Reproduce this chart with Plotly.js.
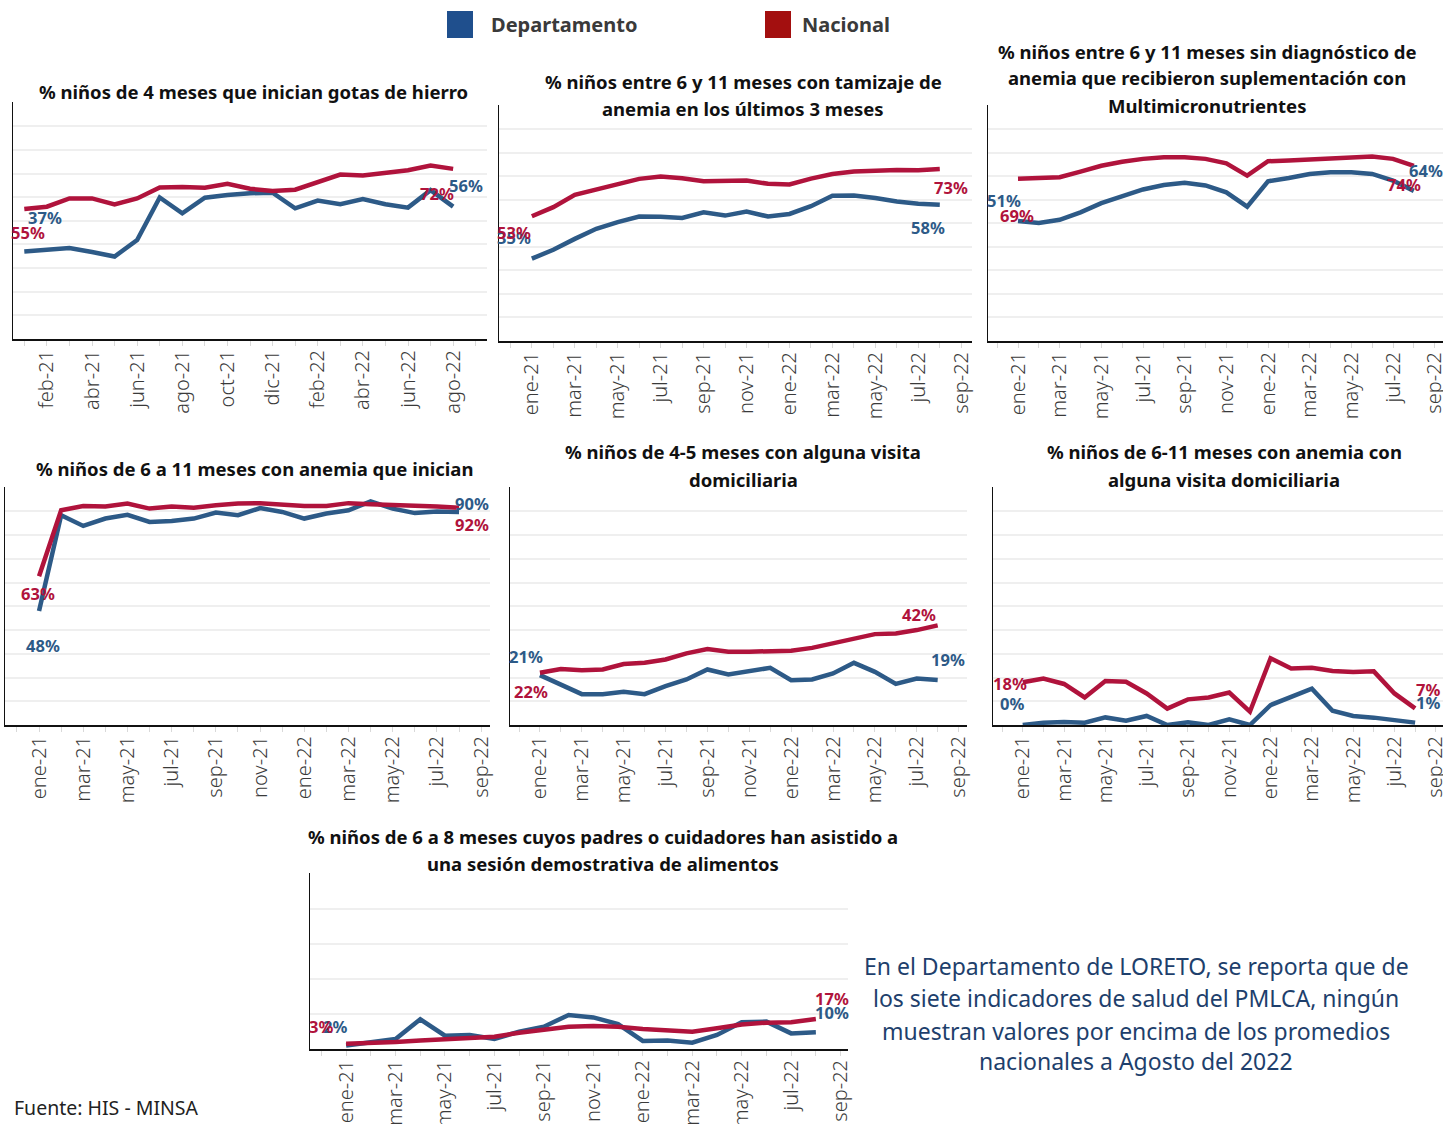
<!DOCTYPE html>
<html>
<head>
<meta charset="utf-8">
<script src="https://cdn.plot.ly/plotly-3.0.1.min.js"></script>
<style>
  html, body { margin: 0; padding: 0; background: #ffffff; }
  #chart { width: 1443px; height: 1124px; }
</style>
</head>
<body>
<div id="chart"></div>
<script>
// ---------- DATA ----------
const months = ['ene-21','feb-21','mar-21','abr-21','may-21','jun-21','jul-21','ago-21','sep-21','oct-21','nov-21','dic-21',
                'ene-22','feb-22','mar-22','abr-22','may-22','jun-22','jul-22','ago-22','sep-22'];
const seriesNames = ['Departamento', 'Nacional'];

// 1. % niños de 4 meses que inician gotas de hierro
const p1Dep = [0.37,0.377,0.385,0.368,0.349,0.419,0.599,0.532,0.598,0.609,0.617,0.619,0.553,0.586,0.570,0.592,0.570,0.556,0.630,0.56];
const p1Nac = [0.55,0.560,0.595,0.595,0.570,0.595,0.641,0.643,0.640,0.657,0.636,0.626,0.632,0.662,0.696,0.692,0.703,0.714,0.734,0.72];
// 2. tamizaje de anemia
const p2Dep = [0.35,0.388,0.434,0.477,0.505,0.529,0.528,0.523,0.547,0.533,0.550,0.529,0.540,0.573,0.617,0.618,0.608,0.593,0.583,0.579];
const p2Nac = [0.53,0.569,0.621,0.644,0.663,0.689,0.699,0.692,0.679,0.679,0.682,0.668,0.665,0.690,0.710,0.720,0.724,0.727,0.726,0.731];
// 3. suplementación con Multimicronutrientes
const p3Dep = [0.51,0.502,0.515,0.547,0.586,0.615,0.644,0.663,0.672,0.661,0.632,0.571,0.679,0.693,0.710,0.717,0.717,0.710,0.682,0.638];
const p3Nac = [0.69,0.692,0.696,0.720,0.745,0.762,0.774,0.781,0.781,0.774,0.755,0.703,0.764,0.767,0.771,0.777,0.781,0.784,0.774,0.744];
// 4. anemia que inician
const p4Dep = [0.48,0.884,0.839,0.870,0.886,0.856,0.860,0.870,0.895,0.884,0.914,0.898,0.870,0.891,0.905,0.942,0.912,0.893,0.900,0.898];
const p4Nac = [0.627,0.905,0.923,0.921,0.933,0.912,0.921,0.916,0.926,0.933,0.935,0.928,0.923,0.923,0.935,0.930,0.928,0.923,0.921,0.916];
// 5. 4-5 meses con alguna visita domiciliaria
const p5Dep = [0.21,0.171,0.130,0.130,0.140,0.130,0.164,0.192,0.234,0.213,0.227,0.241,0.189,0.192,0.217,0.262,0.224,0.173,0.196,0.19];
const p5Nac = [0.22,0.236,0.231,0.234,0.257,0.262,0.276,0.302,0.320,0.309,0.309,0.313,0.313,0.325,0.344,0.365,0.383,0.386,0.400,0.42];
// 6. 6-11 meses con anemia con alguna visita domiciliaria
const p6Dep = [0.0,0.010,0.013,0.010,0.032,0.018,0.038,0.0,0.011,0.0,0.024,0.0,0.084,0.116,0.153,0.060,0.038,0.031,0.021,0.01];
const p6Nac = [0.18,0.196,0.173,0.116,0.185,0.182,0.133,0.069,0.108,0.116,0.137,0.056,0.281,0.238,0.241,0.228,0.223,0.226,0.133,0.07];
// 7. sesión demostrativa de alimentos
const p7Dep = [0.02,0.036,0.057,0.169,0.076,0.080,0.057,0.099,0.127,0.194,0.180,0.142,0.046,0.049,0.036,0.080,0.152,0.156,0.089,0.096];
const p7Nac = [0.03,0.032,0.040,0.049,0.057,0.067,0.070,0.093,0.108,0.127,0.131,0.127,0.114,0.104,0.099,0.118,0.140,0.150,0.152,0.171];

const titles = [
  ['% niños de 4 meses que inician gotas de hierro'],
  ['% niños entre 6 y 11 meses con tamizaje de', 'anemia en los últimos 3 meses'],
  ['% niños entre 6 y 11 meses sin diagnóstico de', 'anemia que recibieron suplementación con', 'Multimicronutrientes'],
  ['% niños de 6 a 11 meses con anemia que inician'],
  ['% niños de 4-5 meses con alguna visita', 'domiciliaria'],
  ['% niños de 6-11 meses con anemia con', 'alguna visita domiciliaria'],
  ['% niños de 6 a 8 meses cuyos padres o cuidadores han asistido a', 'una sesión demostrativa de alimentos']
];
const noteLines = ['En el Departamento de LORETO, se reporta que de',
                   'los siete indicadores de salud del PMLCA, ningún',
                   'muestran valores por encima de los promedios',
                   'nacionales a Agosto del 2022'];
const sourceText = 'Fuente: HIS - MINSA';

// ---------- LAYOUT CONFIG ----------
const W = 1443, H = 1124;
const BLUE = '#2d5a87', RED = '#b0133c';
const LEG_BLUE = '#1f4f8d', LEG_RED = '#a30f0f';
const FONT = 'Noto Sans, sans-serif';
const px = p => p / W, py = p => 1 - p / H;

// box: [left, right, top, bottom] in pixels; lab: [xshift, yshift] for depFirst, nacFirst, depLast, nacLast
const panels = [
  {dep:p1Dep, nac:p1Nac, box:[13,487,102,339], xr:[-0.5,20.5], t0:1, dy:0.1, tc:253, ty:[92],
   lab:{df:[21,34], nf:[4,-23], dl:[13,21], nl:[-16,-25]}},
  {dep:p2Dep, nac:p2Nac, box:[499,972,105,341], xr:[-1.53,20.5], t0:0, dy:0.1, tc:743, ty:[81,108],
   lab:{df:[-18,21], nf:[-18,-16], dl:[-12,-23], nl:[11,-18]}},
  {dep:p3Dep, nac:p3Nac, box:[988,1443,105,341], xr:[-1.44,20.4], t0:0, dy:0.1, tc:1207, ty:[51,78,105],
   lab:{df:[-14,21], nf:[-1,-37], dl:[12,20], nl:[-10,-19]}},
  {dep:p4Dep, nac:p4Nac, box:[5,490,487,725], xr:[-1.54,20.4], t0:0, dy:0.1, tc:254, ty:[468],
   lab:{df:[4,-34], nf:[-1,-17], dl:[13,8], nl:[13,-17]}},
  {dep:p5Dep, nac:p5Nac, box:[510,967,487,725], xr:[-1.43,20.4], t0:0, dy:0.1, tc:743, ty:[452,479],
   lab:{df:[-14,19], nf:[-9,-19], dl:[10,20], nl:[-19,11]}},
  {dep:p6Dep, nac:p6Nac, box:[993,1443,487,725], xr:[-1.44,20.35], t0:0, dy:0.1, tc:1224, ty:[452,479],
   lab:{df:[-11,22], nf:[-13,-1], dl:[13,20], nl:[13,19]}},
  {dep:p7Dep, nac:p7Nac, box:[310,848,873,1049], xr:[-1.46,20.3], t0:0, dy:0.2, tc:603, ty:[836,863],
   lab:{df:[-11,19], nf:[-25,17], dl:[16,20], nl:[16,20]}}
];

const data = [];
const layout = {
  width: W, height: H,
  margin: {l:0, r:0, t:0, b:0},
  paper_bgcolor: '#ffffff', plot_bgcolor: '#ffffff',
  showlegend: false,
  font: {family: FONT, color: '#333'},
  annotations: [], shapes: []
};

panels.forEach((p, k) => {
  const n = k + 1;
  const xa = 'xaxis' + (n === 1 ? '' : n), ya = 'yaxis' + (n === 1 ? '' : n);
  const xr = 'x' + (n === 1 ? '' : n), yr = 'y' + (n === 1 ? '' : n);
  const xs = p.dep.map((_, i) => i);
  const tickvals = [], ticktext = [];
  for (let i = p.t0; i < months.length; i += 2) { tickvals.push(i); ticktext.push(months[i]); }

  layout[xa] = {
    domain: [px(p.box[0]), px(p.box[1])], anchor: yr,
    range: p.xr, tickmode: 'array', tickvals: tickvals, ticktext: ticktext,
    tickangle: -90, tickfont: {family: FONT, size: 20, color: '#3a3a3a', weight: 300},
    ticklabeloverflow: 'allow', ticklabelstandoff: -4,
    ticks: 'outside', ticklen: 5, tickcolor: '#d9d9d9', tickwidth: 1,
    minor: {ticks: 'outside', ticklen: 5, tickcolor: '#d9d9d9', tickwidth: 1, dtick: 1, tick0: 0, showgrid: false},
    showgrid: false, zeroline: false, showline: true, linecolor: '#111', linewidth: 2,
    fixedrange: true
  };
  layout[ya] = {
    domain: [py(p.box[3]), py(p.box[2])], anchor: xr,
    range: [0, 1.003], dtick: p.dy, tick0: 0, showticklabels: false, ticks: '',
    showgrid: true, gridcolor: '#efefef', gridwidth: 2,
    zeroline: false, showline: true, linecolor: '#111', linewidth: 1.5,
    fixedrange: true
  };

  data.push({x: xs, y: p.dep, xaxis: xr, yaxis: yr, type: 'scatter', mode: 'lines', name: seriesNames[0],
             line: {color: BLUE, width: 4.5}, hoverinfo: 'skip'});
  data.push({x: xs, y: p.nac, xaxis: xr, yaxis: yr, type: 'scatter', mode: 'lines', name: seriesNames[1],
             line: {color: RED, width: 4.5}, hoverinfo: 'skip'});

  const last = p.dep.length - 1;
  const labs = [
    [p.dep, 0, BLUE, p.lab.df], [p.nac, 0, RED, p.lab.nf],
    [p.dep, last, BLUE, p.lab.dl], [p.nac, last, RED, p.lab.nl]
  ];
  labs.forEach(([arr, i, col, sh]) => {
    layout.annotations.push({
      x: i, y: arr[i], xref: xr, yref: yr, showarrow: false,
      text: Math.round(arr[i] * 100) + '%', xshift: sh[0], yshift: sh[1],
      font: {family: FONT, size: 16.5, color: col, weight: 'bold'},
      xanchor: 'center', yanchor: 'middle'
    });
  });

  titles[k].forEach((line, j) => {
    layout.annotations.push({
      x: px(p.tc), y: py(p.ty[j]), xref: 'paper', yref: 'paper', showarrow: false,
      text: line, xanchor: 'center', yanchor: 'middle',
      font: {family: FONT, size: 18.5, color: '#111', weight: 'bold'}
    });
  });
});

// legend
const legItems = [
  {name: seriesNames[0], color: LEG_BLUE, sx: 447, tx: 489},
  {name: seriesNames[1], color: LEG_RED, sx: 765, tx: 800}
];
legItems.forEach(it => {
  layout.shapes.push({type: 'rect', xref: 'paper', yref: 'paper',
    x0: px(it.sx), x1: px(it.sx + 26), y0: py(38), y1: py(11),
    fillcolor: it.color, line: {width: 0}});
  layout.annotations.push({x: px(it.tx), y: py(25), xref: 'paper', yref: 'paper', showarrow: false,
    text: it.name, xanchor: 'left', yanchor: 'middle',
    font: {family: FONT, size: 20, color: '#3a3a3a', weight: 'bold'}});
});

// note text
const noteY = [966, 998, 1031, 1061];
noteLines.forEach((t, j) => {
  layout.annotations.push({x: px(1136), y: py(noteY[j]), xref: 'paper', yref: 'paper', showarrow: false,
    text: t, xanchor: 'center', yanchor: 'middle',
    font: {family: FONT, size: 23, color: '#1e3f6c'}});
});
layout.annotations.push({x: px(12), y: py(1107), xref: 'paper', yref: 'paper', showarrow: false,
  text: sourceText, xanchor: 'left', yanchor: 'middle',
  font: {family: FONT, size: 19.5, color: '#222'}});

Plotly.newPlot('chart', data, layout, {staticPlot: true, displayModeBar: false});
</script>
</body>
</html>
